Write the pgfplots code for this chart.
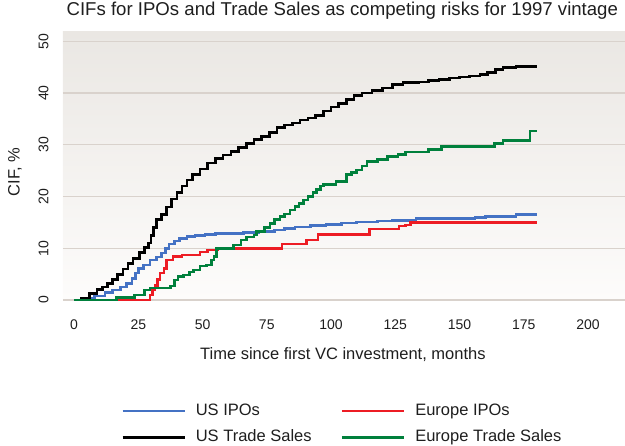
\documentclass[border=0pt]{standalone}
\usepackage{fontspec}
\setmainfont{Liberation Sans}
\usepackage{pgfplots}
\pgfplotsset{compat=1.18}
\definecolor{bgtop}{RGB}{234,231,227}
\definecolor{bgbot}{RGB}{253,252,251}
\definecolor{gridc}{RGB}{217,210,204}
\definecolor{cblue}{RGB}{68,114,196}
\definecolor{cred}{RGB}{237,28,36}
\definecolor{cgreen}{RGB}{0,128,60}
\definecolor{txt}{RGB}{30,30,30}
\begin{document}
\begin{tikzpicture}[x=1pt,y=1pt]
\useasboundingbox (0,0) rectangle (625,446);
\begin{axis}[
  at={(63pt,146pt)}, anchor=south west,
  width=562pt, height=268pt, scale only axis,
  xmin=-4.3, xmax=214.4, ymin=0, ymax=51.8,
  clip=false,
  axis background/.style={shade, top color=bgtop, bottom color=bgbot},
  axis line style={draw=none},
  major tick length=0pt,
  xtick={0,25,...,200}, ytick={0,10,...,50},
  ymajorgrids, grid style={color=gridc, line width=1.3pt},
  /pgf/number format/assume math mode=true,
  ticklabel style={font=\fontsize{14}{16}\selectfont, text=txt},
  xticklabel shift=16pt,
  yticklabel style={rotate=90, anchor=south},
  yticklabel shift=11pt,
  title={CIFs for IPOs and Trade Sales as competing risks for 1997 vintage},
  title style={at={(axis description cs:0.497,1.056)}, anchor=center, font=\fontsize{18.6}{20}\selectfont, text=txt},
  xlabel={Time since first VC investment, months},
  xlabel style={at={(axis description cs:0.498,-0.205)}, anchor=center, font=\fontsize{16.5}{18}\selectfont, text=txt},
  ylabel={CIF, \%},
  ylabel style={at={(axis description cs:-0.0854,0.478)}, anchor=center, font=\fontsize{16.5}{18}\selectfont, text=txt},
  legend columns=2,
  legend cell align=left,
  legend image code/.code={\draw[#1] (0pt,0pt) -- (62pt,0pt); \path (70pt,0pt);},
  legend style={at={(axis description cs:0.497,-0.37)}, anchor=north, draw=none, fill=none,
    font=\fontsize{16.5}{18}\selectfont, text=txt,
    /tikz/every even column/.append style={column sep=27pt},
    row sep=7pt,
    nodes={inner sep=2pt, text height=12pt, text depth=3.5pt}},
  every axis plot/.append style={const plot, no markers, line width=2.6pt},
]
\addplot[cblue] coordinates {
(0,0) (4,0.3) (8,0.8) (12,1.4) (15,1.9) (18,2.5) (20.5,3.2) (22.5,4.2) (24,5.2) (25,6.1) (27,6.8) (29.5,7.7) (32,8.3) (34,9.1) (35.5,10.0) (37,10.8) (39,11.4) (41,11.9) (44,12.3) (47,12.5) (51,12.7) (55,12.8) (60,12.9) (66,13.0) (72,13.2) (78,13.5) (82,13.8) (86,14.1) (92,14.4) (98,14.6) (104,14.9) (110,15.1) (118,15.3) (124,15.4) (133,15.7) (156,15.9) (160,16.1) (172,16.5) (180,16.5)
};
\addlegendentry{US IPOs}
\addplot[cred] coordinates {
(0,0) (29.5,1.0) (30.5,1.9) (31.5,2.8) (32.5,4.0) (33.5,5.2) (35,6.1) (36,7.7) (38.5,8.4) (42,8.7) (49,9.3) (52,9.7) (56,10.0) (81,10.8) (90.5,11.6) (95,12.7) (115,13.7) (126.5,14.3) (129,14.5) (131,15.0) (180,15.0)
};
\addlegendentry{Europe IPOs}
\addplot[black] coordinates {
(0,0) (3,0.3) (6,1.2) (9,2.0) (11,2.5) (13,3.2) (15,4.0) (17,4.9) (19,6.0) (21,7.0) (23,8.0) (25.5,9.2) (27.5,10.2) (29,11.0) (30,12.5) (31,14.0) (32,15.5) (34,16.5) (36,18.0) (38,19.5) (40,20.8) (42,22.0) (44,23.2) (46,24.3) (49,25.3) (52,26.5) (55,27.4) (58,28.0) (61,28.7) (64,29.5) (67,30.2) (70,31.0) (73,31.6) (76,32.4) (79,33.3) (82,33.8) (85,34.2) (88,34.8) (91,35.2) (94,35.7) (97,36.5) (100,37.3) (103,38.0) (106,38.7) (109,39.5) (112,40.0) (116,40.5) (120,41.0) (124,41.6) (128,42.0) (134,42.1) (138,42.4) (142,42.6) (146,42.9) (150,43.1) (154,43.3) (158,43.6) (161,44.0) (164,44.6) (167,44.9) (172,45.1) (180,45.1)
};
\addlegendentry{US Trade Sales}
\addplot[cgreen] coordinates {
(0,0) (16.5,0.5) (23.5,1.0) (27.5,1.9) (29.5,2.3) (37.5,2.7) (39,3.9) (40.5,4.5) (42.5,4.8) (45,5.4) (46.5,5.8) (49,6.6) (51.5,6.8) (53.5,7.7) (54.5,8.4) (55.5,10.0) (62,10.6) (65,11.6) (67,12.2) (70,12.6) (71,13.2) (74,14.0) (76.3,14.8) (78,15.5) (80.2,16.1) (82,16.6) (84,17.4) (86,18.1) (87.5,18.7) (89.2,19.3) (91,20.0) (93,20.8) (94.4,21.3) (96,22.0) (97,22.3) (102,22.9) (106,24.2) (108,24.6) (110,25.1) (112,25.9) (114,26.8) (118,27.1) (122,27.7) (126,28.1) (129,28.6) (138,29.1) (143,29.7) (163.5,30.3) (167,30.8) (177.4,32.7) (180,32.7)
};
\addlegendentry{Europe Trade Sales}
\end{axis}
\end{tikzpicture}
\end{document}
